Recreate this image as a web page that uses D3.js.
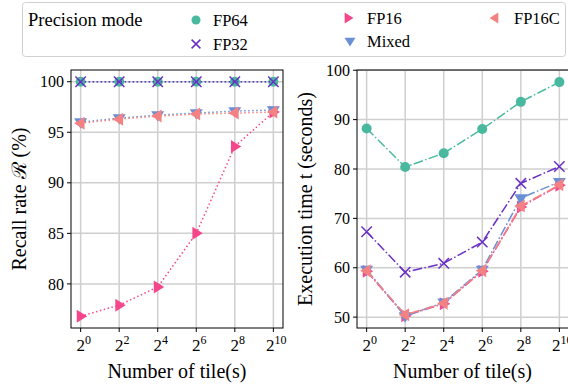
<!DOCTYPE html>
<html><head><meta charset="utf-8">
<script src="https://cdn.jsdelivr.net/npm/d3@7"></script>
<style>body{margin:0;background:#fff}svg{display:block}</style>
</head><body><svg id="c" width="568" height="388" font-family="'Liberation Serif', 'Tinos', 'Times New Roman', 'DejaVu Serif', serif"></svg>
<script>
const exponents = [0, 2, 4, 6, 8, 10];
const seriesNames = ["FP64", "FP32", "FP16", "Mixed", "FP16C"];
const recallFP64 = [100, 100, 100, 100, 100, 100];
const recallFP32 = [100, 100, 100, 100, 100, 100];
const recallFP16 = [76.8, 77.9, 79.7, 85.0, 93.6, 97.0];
const recallMixed = [96.0, 96.4, 96.7, 96.9, 97.1, 97.2];
const recallFP16C = [95.9, 96.3, 96.6, 96.8, 96.9, 97.0];
const timeFP64 = [88.2, 80.4, 83.2, 88.1, 93.6, 97.6];
const timeFP32 = [67.3, 59.1, 60.9, 65.2, 77.1, 80.5];
const timeFP16 = [59.3, 50.3, 52.7, 59.3, 72.3, 76.7];
const timeMixed = [59.6, 50.2, 53.0, 59.6, 74.1, 77.4];
const timeFP16C = [59.4, 50.5, 52.8, 59.4, 72.5, 76.8];
const leftTicks = [80, 85, 90, 95, 100];
const rightTicks = [50, 60, 70, 80, 90, 100];

const colors = {FP64:"#48b89f", FP32:"#6a2fc5", FP16:"#f5468c", Mixed:"#6b8fd6", FP16C:"#f58282"};
const markers = {FP64:"circle", FP32:"x", FP16:"right", Mixed:"down", FP16C:"left"};

const svg = d3.select("#c");

function markerPath(type, s) {
  if (type === "right") return `M${-s*0.6},${-s}L${s},0L${-s*0.6},${s}Z`;
  if (type === "left") return `M${s*0.6},${-s}L${-s},0L${s*0.6},${s}Z`;
  if (type === "down") return `M${-s},${-s*0.6}L${s},${-s*0.6}L0,${s}Z`;
  if (type === "x") return `M${-s},${-s}L${s},${s}M${-s},${s}L${s},${-s}`;
  return "";
}
function drawMarker(g, type, x, y, size, color) {
  if (type === "circle") {
    g.append("circle").attr("cx", x).attr("cy", y).attr("r", size).attr("fill", color);
  } else if (type === "x") {
    g.append("path").attr("transform", `translate(${x},${y})`).attr("d", markerPath("x", size*0.8))
      .attr("stroke", color).attr("stroke-width", 1.5).attr("fill", "none");
  } else {
    g.append("path").attr("transform", `translate(${x},${y})`).attr("d", markerPath(type, size))
      .attr("fill", color);
  }
}

function panel(opts) {
  const x = d3.scaleLinear().domain([-0.5, 10.5]).range([opts.x0, opts.x1]);
  const y = d3.scaleLinear().domain(opts.ydom).range([opts.y1, opts.y0]);
  const g = svg.append("g");
  g.selectAll(".gx").data(exponents).join("line")
    .attr("x1", d => x(d)).attr("x2", d => x(d)).attr("y1", opts.y0).attr("y2", opts.y1)
    .attr("stroke", "#cfcfcf").attr("stroke-width", 1.5);
  g.selectAll(".gy").data(opts.ticks).join("line")
    .attr("x1", opts.x0).attr("x2", opts.x1).attr("y1", d => y(d)).attr("y2", d => y(d))
    .attr("stroke", "#cfcfcf").attr("stroke-width", 1.5);
  const sg = g.append("g");
  opts.series.forEach((vals, i) => {
    const name = seriesNames[i];
    const line = d3.line().x((d, j) => x(exponents[j])).y(d => y(d));
    sg.append("path").attr("d", line(vals)).attr("fill", "none").attr("stroke", colors[name])
      .attr("stroke-width", 1.5).attr("stroke-dasharray", opts.dash);
    vals.forEach((v, j) => drawMarker(sg, markers[name], x(exponents[j]), y(v), name === "FP64" ? 5 : 6.5, colors[name]));
  });
  g.append("rect").attr("x", opts.x0).attr("y", opts.y0).attr("width", opts.x1 - opts.x0).attr("height", opts.y1 - opts.y0)
    .attr("fill", "none").attr("stroke", "#000").attr("stroke-width", 1);
  opts.ticks.forEach(t => {
    g.append("line").attr("x1", opts.x0 - 4).attr("x2", opts.x0).attr("y1", y(t)).attr("y2", y(t)).attr("stroke", "#000");
    g.append("text").attr("x", opts.x0 - 7).attr("y", y(t)).attr("dy", "0.35em").attr("text-anchor", "end")
      .attr("font-size", 16).text(t);
  });
  exponents.forEach(e => {
    g.append("line").attr("x1", x(e)).attr("x2", x(e)).attr("y1", opts.y1).attr("y2", opts.y1 + 4).attr("stroke", "#000");
    const t = g.append("text").attr("x", x(e) + 3).attr("y", opts.y1 + 23).attr("text-anchor", "middle").attr("font-size", 17);
    t.append("tspan").text("2");
    t.append("tspan").attr("dy", -7).attr("font-size", 12).text(e);
  });
  g.append("text").attr("x", (opts.x0 + Math.min(opts.x1, 568)) / 2).attr("y", 378).attr("text-anchor", "middle")
    .attr("font-size", 20).text("Number of tile(s)");
  g.append("text").attr("transform", `translate(${opts.ylabX},${(opts.y0 + opts.y1) / 2}) rotate(-90)`)
    .attr("text-anchor", "middle").attr("font-size", 20).text(opts.ylabel);
}

panel({id: "L", x0: 71, x1: 283, y0: 70, y1: 328, ydom: [75.64, 101.16], ticks: leftTicks,
  series: [recallFP64, recallFP32, recallFP16, recallMixed, recallFP16C], dash: "1.5,2.5",
  ylabel: "Recall rate \u211B (%)", ylabX: 26});
panel({id: "R", x0: 357, x1: 569, y0: 70, y1: 328, ydom: [47.8, 100.05], ticks: rightTicks,
  series: [timeFP64, timeFP32, timeFP16, timeMixed, timeFP16C], dash: "9.6,2.4,1.5,2.4",
  ylabel: "Execution time t (seconds)", ylabX: 312});

const lg = svg.append("g");
lg.append("rect").attr("x", 22.5).attr("y", 2.5).attr("width", 543).attr("height", 54).attr("rx", 3)
  .attr("fill", "#fff").attr("stroke", "#d0d0d0").attr("stroke-width", 1);
lg.append("text").attr("x", 28).attr("y", 26).attr("font-size", 18.5).text("Precision mode");
const legPos = [
  {name: "FP64", mx: 196, tx: 213, y: 20},
  {name: "FP32", mx: 196, tx: 213, y: 44},
  {name: "FP16", mx: 348, tx: 367, y: 18},
  {name: "Mixed", mx: 350, tx: 367, y: 41},
  {name: "FP16C", mx: 495, tx: 514, y: 18}
];
legPos.forEach(p => {
  drawMarker(lg, markers[p.name], p.mx, p.y, p.name === "FP64" ? 4.5 : 5.5, colors[p.name]);
  lg.append("text").attr("x", p.tx).attr("y", p.y).attr("dy", "0.35em").attr("font-size", 16.5).text(p.name);
});
</script></body></html>
